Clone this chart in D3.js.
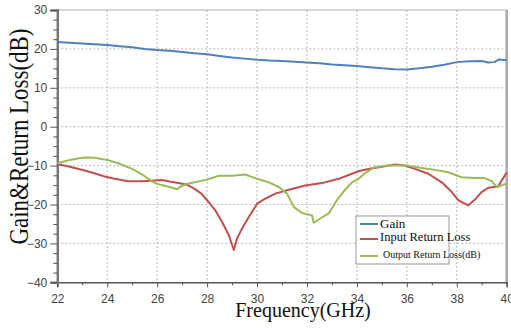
<!DOCTYPE html>
<html>
<head>
<meta charset="utf-8">
<script src="https://cdn.jsdelivr.net/npm/d3@7/dist/d3.min.js"></script>
<style>
  body { margin: 0; background: #fff; }
  .tick text { font-family: "Liberation Sans", Arial, sans-serif; font-size: 12px; fill: #444; }
</style>
</head>
<body>
<script>
var width = 511;
var height = 328;
var margin = {top: 10, right: 4.3, bottom: 45.7, left: 57.3};

// data
var xTicks = [22, 24, 26, 28, 30, 32, 34, 36, 38, 40];
var xMinor = [23, 25, 27, 29, 31, 33, 35, 37, 39];
var yTicks = [30, 20, 10, 0, -10, -20, -30, -40];
var yMinor = [25, 15, 5, -5, -15, -25, -35, 27.5, 22.5, 17.5, 12.5, 7.5, 2.5, -2.5, -7.5, -12.5, -17.5, -22.5, -27.5, -32.5, -37.5];

var gainFreq = [22, 22.5, 23, 23.5, 24, 24.5, 25, 25.5, 26, 26.5, 27, 27.5, 28, 28.5, 29, 29.5, 30, 30.5, 31, 31.5, 32, 32.5, 33, 33.5, 34, 34.5, 35, 35.5, 36, 36.5, 37, 37.5, 38, 38.5, 39, 39.25, 39.5, 39.7, 40];
var gainValues = [21.8, 21.6, 21.4, 21.2, 21.0, 20.7, 20.4, 20.0, 19.7, 19.5, 19.2, 18.9, 18.6, 18.2, 17.8, 17.5, 17.2, 17.0, 16.9, 16.7, 16.5, 16.3, 16.0, 15.8, 15.6, 15.3, 15.0, 14.8, 14.7, 15.0, 15.4, 15.9, 16.6, 16.8, 16.9, 16.5, 16.6, 17.3, 17.1];

var inputFreq = [22, 22.5, 23.25, 23.9, 24.3, 24.84, 25.4, 25.9, 26.2, 26.5, 26.85, 27.2, 27.5, 27.77, 28, 28.33, 28.6, 28.87, 29.07, 29.2, 29.4, 29.67, 30, 30.33, 30.73, 31.27, 31.93, 32.6, 33.27, 33.8, 34.1, 34.46, 35, 35.53, 35.92, 36.32, 36.86, 37.4, 37.8, 38.06, 38.26, 38.46, 38.72, 38.99, 39.26, 39.5, 39.66, 39.8, 40];
var inputValues = [-9.6, -10.3, -11.5, -12.8, -13.4, -14.0, -14.0, -13.8, -13.7, -14.1, -14.5, -14.9, -16.0, -17.2, -18.9, -21.5, -24.5, -27.9, -31.7, -28.7, -26.2, -23.2, -19.8, -18.5, -17.2, -16.2, -15.1, -14.5, -13.4, -12.1, -11.4, -10.85, -10.3, -9.7, -10.0, -10.85, -12.1, -14.3, -16.8, -18.9, -19.6, -20.2, -18.8, -16.8, -15.7, -15.5, -15.4, -13.8, -11.8];

var outputFreq = [22, 22.5, 23, 23.25, 23.5, 24, 24.44, 25, 25.4, 25.8, 26, 26.3, 26.6, 26.8, 26.9, 27.2, 27.5, 28, 28.47, 29, 29.53, 30, 30.47, 30.87, 31.2, 31.47, 31.8, 32.2, 32.27, 32.53, 32.87, 33.2, 33.53, 33.8, 34.07, 34.3, 34.7, 35.26, 36, 36.59, 37.13, 37.66, 38.19, 38.72, 39.12, 39.4, 39.6, 39.8, 40];
var outputValues = [-9.4, -8.55, -8.0, -7.9, -8.0, -8.55, -9.4, -10.85, -12.3, -14.1, -14.7, -15.2, -15.7, -16.1, -15.5, -14.7, -14.3, -13.6, -12.6, -12.6, -12.3, -13.4, -14.3, -15.5, -17.2, -20.6, -22.2, -22.8, -24.7, -23.6, -22.3, -18.9, -16.2, -14.3, -13.4, -12.1, -10.4, -10.0, -10.0, -10.6, -11.1, -11.7, -13.0, -13.2, -13.2, -14.0, -15.5, -15.1, -14.6];

var seriesNames = ["Gain", "Input Return Loss", "Output Return Loss(dB)"];
var seriesColors = ["#4f81bd", "#c0504d", "#9bbb59"];

var svg = d3.select("body").append("svg")
	.attr("width", width)
	.attr("height", height);

var x = d3.scaleLinear().domain([22, 40]).range([margin.left, width - margin.right]);
var y = d3.scaleLinear().domain([-40, 30]).range([height - margin.bottom, margin.top]);

// grid
svg.append("g").selectAll("line")
	.data(xTicks.slice(1, -1))
	.enter().append("line")
	.attr("x1", d => x(d)).attr("x2", d => x(d))
	.attr("y1", y(30)).attr("y2", y(-40))
	.attr("stroke", "#c4c4c4").attr("stroke-width", 1.2).attr("stroke-dasharray", "2,2");

svg.append("g").selectAll("line")
	.data(yTicks.slice(1, -1))
	.enter().append("line")
	.attr("x1", x(22)).attr("x2", x(40))
	.attr("y1", d => y(d)).attr("y2", d => y(d))
	.attr("stroke", "#c4c4c4").attr("stroke-width", 1.2).attr("stroke-dasharray", "2,2");

// frame top and right
svg.append("line")
	.attr("x1", x(22)).attr("x2", x(40)).attr("y1", y(30)).attr("y2", y(30))
	.attr("stroke", "#b0b0b0").attr("stroke-width", 1);
svg.append("line")
	.attr("x1", x(40)).attr("x2", x(40)).attr("y1", y(30)).attr("y2", y(-40))
	.attr("stroke", "#a8a8a8").attr("stroke-width", 2.5);

// axes
var xAxis = svg.append("g")
	.attr("transform", "translate(0," + y(-40) + ")")
	.call(d3.axisBottom(x).tickValues(xTicks).tickSize(5).tickPadding(5).tickFormat(d3.format("d")));
xAxis.select(".domain").attr("stroke", "#555").attr("stroke-width", 1.5);
xAxis.selectAll(".tick line").attr("stroke", "#555");
xAxis.selectAll(".tick text").attr("dy", "0.9em");
svg.append("g")
	.attr("transform", "translate(0," + y(-40) + ")")
	.call(d3.axisBottom(x).tickValues(xMinor).tickSize(3).tickFormat(""))
	.call(g => g.select(".domain").remove())
	.selectAll(".tick line").attr("stroke", "#555");

var yAxis = svg.append("g")
	.attr("transform", "translate(" + x(22) + ",0)")
	.call(d3.axisLeft(y).tickValues(yTicks).tickSize(7).tickPadding(3));
yAxis.select(".domain").attr("stroke", "#777").attr("stroke-width", 2.5);
yAxis.selectAll(".tick line").attr("stroke", "#555");
svg.append("g")
	.attr("transform", "translate(" + x(22) + ",0)")
	.call(d3.axisLeft(y).tickValues(yMinor).tickSize(4).tickFormat(""))
	.call(g => g.select(".domain").remove())
	.selectAll(".tick line").attr("stroke", "#555");

// series
var line = d3.line()
	.x(d => x(d[0]))
	.y(d => y(d[1]));

var series = [
	d3.zip(gainFreq, gainValues),
	d3.zip(inputFreq, inputValues),
	d3.zip(outputFreq, outputValues)
];

svg.append("g").selectAll("path")
	.data(series)
	.enter().append("path")
	.attr("d", line)
	.attr("fill", "none")
	.attr("stroke", (d, i) => seriesColors[i])
	.attr("stroke-width", 2)
	.attr("stroke-linejoin", "round");

// titles
svg.append("text")
	.attr("transform", "translate(28," + 136.5 + ") rotate(-90)")
	.attr("text-anchor", "middle")
	.attr("font-family", "'Liberation Serif', 'Times New Roman', serif")
	.attr("font-size", 28)
	.attr("textLength", 216)
	.attr("lengthAdjust", "spacingAndGlyphs")
	.attr("fill", "#111")
	.text("Gain&Return Loss(dB)");

svg.append("text")
	.attr("x", 303)
	.attr("y", 316.5)
	.attr("text-anchor", "middle")
	.attr("font-family", "'Liberation Serif', 'Times New Roman', serif")
	.attr("font-size", 20)
	.attr("fill", "#111")
	.text("Frequency(GHz)");

// legend
var legend = svg.append("g");
legend.append("rect")
	.attr("x", 356).attr("y", 216)
	.attr("width", 93).attr("height", 48)
	.attr("fill", "#fff")
	.attr("stroke", "#999").attr("stroke-width", 1);

var legendY = [224, 239, 256];
var legendTextY = [227.7, 240.7, 258.3];
var legendSize = [13, 12.5, 10];
var legendTextX = [380, 380, 383];

legend.selectAll("line.key")
	.data(seriesNames)
	.enter().append("line")
	.attr("class", "key")
	.attr("x1", 360).attr("x2", 378)
	.attr("y1", (d, i) => legendY[i]).attr("y2", (d, i) => legendY[i])
	.attr("stroke", (d, i) => seriesColors[i])
	.attr("stroke-width", 2);

legend.selectAll("text")
	.data(seriesNames)
	.enter().append("text")
	.attr("x", (d, i) => legendTextX[i])
	.attr("y", (d, i) => legendTextY[i])
	.attr("font-family", "'Liberation Serif', 'Times New Roman', serif")
	.attr("font-size", (d, i) => legendSize[i])
	.attr("fill", "#111")
	.text(d => d);
</script>
</body>
</html>
